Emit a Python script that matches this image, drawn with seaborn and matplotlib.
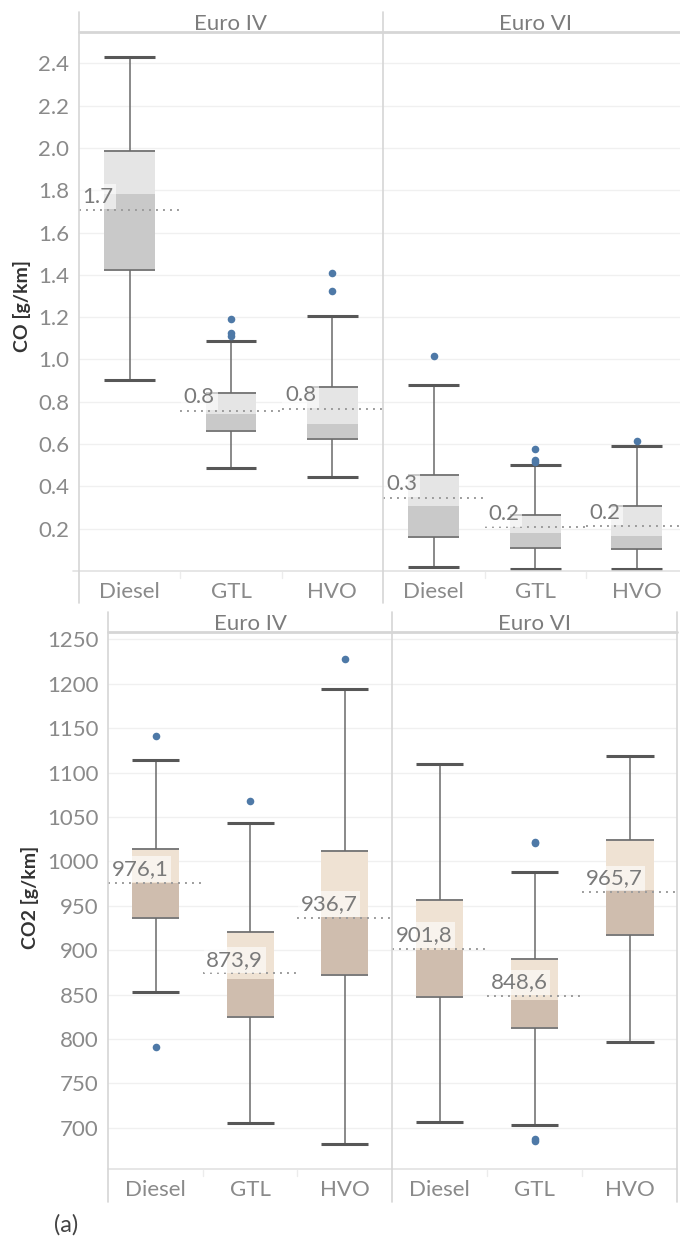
import matplotlib
matplotlib.use("Agg")
import matplotlib.pyplot as plt
import numpy as np
import pandas as pd
import seaborn as sns

# ---------------------------------------------------------------------------
# Data: box statistics per emission stage and fuel
# order within each list: Euro IV (Diesel, GTL, HVO), Euro VI (Diesel, GTL, HVO)
# ---------------------------------------------------------------------------
fuels = ["Diesel", "GTL", "HVO"]
stages = ["Euro IV", "Euro VI"]

co_whislo = [0.905, 0.485, 0.443, 0.018, 0.008, 0.008]
co_q1 = [1.425, 0.662, 0.626, 0.160, 0.110, 0.105]
co_med = [1.783, 0.744, 0.697, 0.308, 0.178, 0.165]
co_q3 = [1.986, 0.842, 0.870, 0.456, 0.264, 0.307]
co_whishi = [2.430, 1.086, 1.204, 0.878, 0.500, 0.593]
co_mean = [1.706, 0.758, 0.766, 0.347, 0.206, 0.212]
co_fliers = [[], [1.19, 1.123, 1.110], [1.407, 1.325], [1.015],
             [0.576, 0.527, 0.516], [0.613]]
co_ticks = [0.2, 0.4, 0.6, 0.8, 1.0, 1.2, 1.4, 1.6, 1.8, 2.0, 2.2, 2.4]

co2_whislo = [852.8, 705.6, 681.3, 706.8, 703.4, 796.8]
co2_q1 = [936.5, 825.0, 872.0, 847.5, 812.0, 916.7]
co2_med = [975.8, 867.1, 937.5, 900.1, 843.8, 967.5]
co2_q3 = [1013.5, 920.7, 1011.6, 956.8, 889.6, 1024.0]
co2_whishi = [1114.1, 1042.8, 1194.0, 1109.6, 988.3, 1118.6]
co2_mean = [976.1, 873.9, 936.7, 901.8, 848.6, 965.7]
co2_fliers = [[1141.1, 790.5], [1067.9], [1227.8], [],
              [1022.1, 1020.3, 686.8, 685.0], []]
co2_ticks = list(range(700, 1251, 50))

# ---------------------------------------------------------------------------
sns.set_theme(style="white")
plt.rcParams["font.family"] = ["Lato", "DejaVu Sans"]

W, H = 680, 1236
fig = plt.figure(figsize=(W / 100, H / 100), dpi=100)

TICK_C = "#8a8a8a"
HEAD_C = "#7c7c7c"
LINE_C = "#d6d6d6"
GRID_C = "#f0f0f0"
FS = 16


def px_axes(x0, y0, x1, y1):
    """Axes placed by pixel box (top-left origin)."""
    return fig.add_axes([x0 / W, 1 - y1 / H, (x1 - x0) / W, (y1 - y0) / H])


def fig_line(xs, ys, **kw):
    fig.add_artist(plt.Line2D([x / W for x in xs], [1 - y / H for y in ys],
                              transform=fig.transFigure, **kw))


def fmt_tick(t):
    return f"{t:g}" if isinstance(t, int) else f"{t:.1f}"


def draw_panel(ax, idx, stats, ylim, ticks, colors, fmt, show_yticks):
    whislo, q1, med, q3, whishi, mean, fliers = stats
    light, dark = colors
    ax.set_xlim(-0.5, 2.5)
    ax.set_ylim(*ylim)
    ax.set_yticks(ticks)
    for t in ticks:
        ax.axhline(t, color=GRID_C, lw=1.0, zorder=0)
    hw = 0.25
    rows = []
    for j, i in enumerate(idx):
        x = j
        ax.bar(x, q3[i] - med[i], bottom=med[i], width=2 * hw, color=light,
               lw=0, zorder=2)
        ax.bar(x, med[i] - q1[i], bottom=q1[i], width=2 * hw, color=dark,
               lw=0, zorder=2)
        ax.hlines([q1[i], q3[i]], x - hw, x + hw, color="#7b7b7b", lw=1.4,
                  zorder=3)
        ax.vlines(x, q3[i], whishi[i], color="#6a6a6a", lw=1.1, zorder=3)
        ax.vlines(x, whislo[i], q1[i], color="#6a6a6a", lw=1.1, zorder=3)
        ax.hlines([whislo[i], whishi[i]], x - hw, x + hw, color="#575757",
                  lw=2.2, zorder=3)
        ax.hlines(mean[i], x - 0.5, x + 0.5, color="#9c9c9c", lw=1.4,
                  linestyles=(0, (1, 2.6)), zorder=4)
        ax.annotate(fmt(mean[i]), xy=(x - 0.5, mean[i]), xytext=(2.5, 2.5),
                    textcoords="offset points", ha="left", va="bottom",
                    fontsize=FS, color="#7a7a7a", zorder=5,
                    bbox=dict(boxstyle="square,pad=0.12", fc="white",
                              ec="none", alpha=0.6))
        for v in fliers[i]:
            rows.append({"pos": x, "value": v})
    if rows:
        df = pd.DataFrame(rows)
        sns.scatterplot(data=df, x="pos", y="value", ax=ax, color="#4e79a7",
                        s=30, linewidth=0, zorder=6, legend=False)
    ax.set_xlabel("")
    ax.set_ylabel("")
    ax.set_xticks(range(3))
    ax.set_xticklabels(fuels, fontsize=FS, color=TICK_C)
    ax.tick_params(axis="x", length=0, pad=8)
    if show_yticks:
        ax.set_yticklabels([fmt_tick(t) for t in ticks], fontsize=FS,
                           color=TICK_C)
        ax.tick_params(axis="y", length=0, pad=7)
    else:
        ax.tick_params(axis="y", length=0, labelleft=False)
    for s in ax.spines.values():
        s.set_visible(False)
    ax.set_facecolor("none")


# ---------------------------- CO panel ------------------------------------
co_stats = (co_whislo, co_q1, co_med, co_q3, co_whishi, co_mean, co_fliers)
top_boxes = [(79, 32, 383, 571), (383, 32, 687.5, 571)]
for k, stage in enumerate(stages):
    x0, y0, x1, y1 = top_boxes[k]
    ax = px_axes(x0, y0, x1, y1)
    draw_panel(ax, [3 * k, 3 * k + 1, 3 * k + 2], co_stats, (0, 2.548),
               co_ticks, ("#e5e5e5", "#c9c9c9"), lambda m: f"{m:.1f}",
               show_yticks=(k == 0))
    fig.text(((x0 + x1) / 2) / W, 1 - 30.5 / H, stage, ha="center",
             va="baseline", fontsize=FS, color=HEAD_C)
    for b in (x0 + (x1 - x0) / 3, x0 + 2 * (x1 - x0) / 3):
        fig_line([b, b], [572, 578], color="#ececec", lw=1)

fig_line([79, 680], [32, 32], color=LINE_C, lw=2)
fig_line([73, 680], [571, 571], color="#e2e2e2", lw=1.2)
fig_line([79, 79], [12, 603], color=LINE_C, lw=1.2)
fig_line([383, 383], [12, 603], color=LINE_C, lw=1.2)
fig.text(22 / W, 1 - 306 / H, "CO [g/km]", rotation=90, ha="center",
         va="center", fontsize=14, fontweight="bold", color="#333333")

# ---------------------------- CO2 panel -----------------------------------
co2_stats = (co2_whislo, co2_q1, co2_med, co2_q3, co2_whishi, co2_mean,
             co2_fliers)
bot_boxes = [(108.3, 632.3, 392, 1169.3), (392, 632.3, 677.3, 1169.3)]
for k, stage in enumerate(stages):
    x0, y0, x1, y1 = bot_boxes[k]
    ax = px_axes(x0, y0, x1, y1)
    draw_panel(ax, [3 * k, 3 * k + 1, 3 * k + 2], co2_stats, (653.2, 1257.9),
               co2_ticks, ("#efe2d3", "#cfbdae"),
               lambda m: f"{m:.1f}".replace(".", ","),
               show_yticks=(k == 0))
    fig.text(((x0 + x1) / 2) / W, 1 - 630.5 / H, stage, ha="center",
             va="baseline", fontsize=FS, color=HEAD_C)
    for b in (x0 + (x1 - x0) / 3, x0 + 2 * (x1 - x0) / 3):
        fig_line([b, b], [1170, 1176], color="#ececec", lw=1)

fig_line([108.3, 677.3], [632.3, 632.3], color=LINE_C, lw=2)
fig_line([108.3, 677.3], [1169.3, 1169.3], color="#e2e2e2", lw=1.2)
fig_line([108.3, 108.3], [612, 1202], color=LINE_C, lw=1.2)
fig_line([392, 392], [612, 1202], color=LINE_C, lw=1.2)
fig_line([677.3, 677.3], [612, 1202], color=LINE_C, lw=1.2)
fig.text(30 / W, 1 - 897 / H, "CO2 [g/km]", rotation=90, ha="center",
         va="center", fontsize=14, fontweight="bold", color="#333333")

fig.text(66 / W, 1 - 1225 / H, "(a)", ha="center", va="center",
         fontsize=17, color="#444444")

fig.savefig("out.png", dpi=100, facecolor="white")
